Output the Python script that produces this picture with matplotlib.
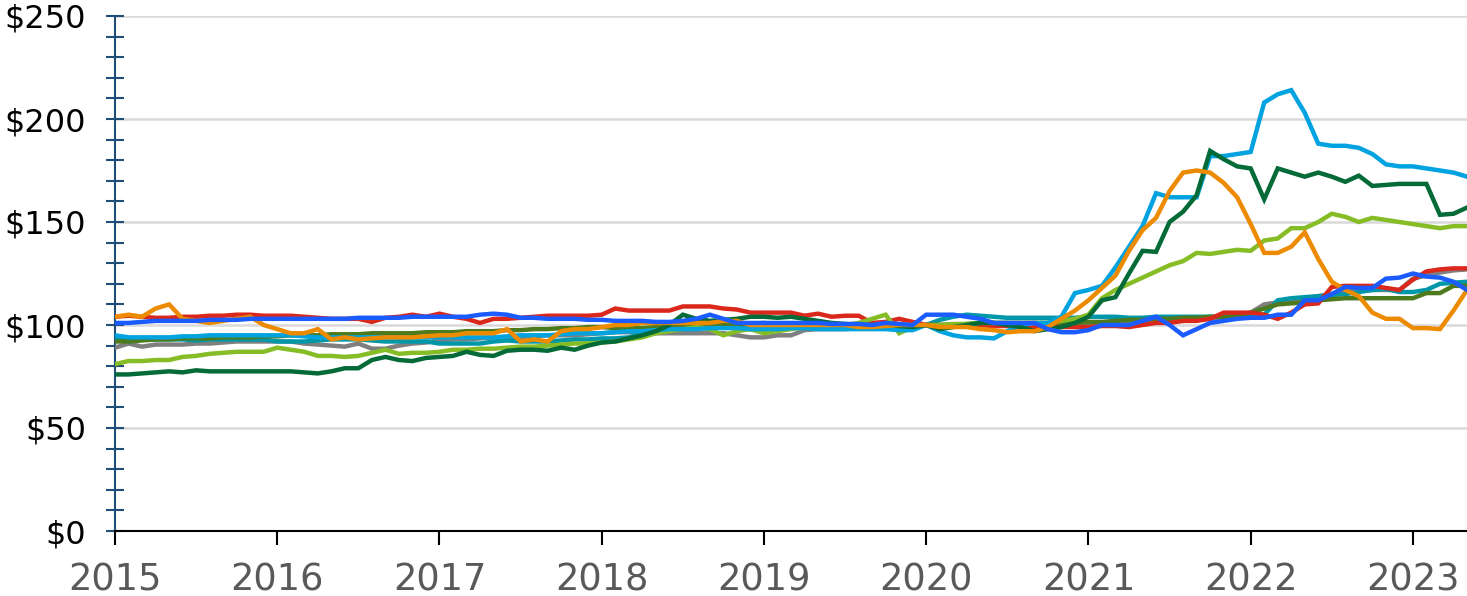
import matplotlib
matplotlib.use("Agg")
import matplotlib.pyplot as plt
import numpy as np
from matplotlib.ticker import MultipleLocator, FuncFormatter

# Monthly index values, Jan 2015 .. May 2023 (101 points)
start_year = 2015
year_ticks = [2015, 2016, 2017, 2018, 2019, 2020, 2021, 2022, 2023]

gray = [89, 91, 89.5, 90.5, 90.5, 90.5, 91, 91, 91.5, 92, 92, 92,
        92, 92, 91, 90.5, 90, 89.5, 91, 88.5, 88.5, 90, 91, 91.5,
        92.5, 93, 93, 93.5, 94, 94, 94, 94.5, 95, 95, 95, 95.5,
        96, 96.5, 96.5, 96.5, 96, 96, 96, 96, 96, 96, 95, 94,
        94, 95, 95, 97.5, 98, 98, 98, 98.5, 99, 99, 99, 99.5,
        100, 100, 100, 100, 100, 100, 100, 100, 100, 100, 100, 100.5,
        101, 101, 101, 101, 101.5, 102, 102, 102, 102.5, 103, 103.5, 104.5,
        106, 110, 111, 112, 113, 114, 115, 116, 117, 117, 117, 117,
        122.5, 124, 125.5, 126.5, 127]

teal = [94, 92, 93, 93, 93, 93, 92.5, 93, 93, 93, 93, 93,
        92, 92, 92, 92.5, 93, 93, 93, 92.5, 92, 92, 92, 92,
        91, 91, 91, 91, 92, 92.5, 92, 92, 92, 92.5, 93, 93,
        93.5, 93.5, 94, 96, 97, 98, 99, 99.5, 100, 100, 99, 98,
        97.5, 98, 98.5, 99, 99, 99, 99, 99, 99, 99, 99, 99,
        100, 102.5, 104, 105, 104.5, 104, 103.5, 103.5, 103.5, 103.5, 103.5, 103.5,
        104, 104, 104, 103.5, 103.5, 104, 104, 104, 104, 104, 104, 104.5,
        104.5, 105, 112, 113, 113.5, 114, 114.5, 115, 116, 117, 117.5, 116,
        116, 117, 120, 120.5, 121]

olive = [92, 92, 92.5, 93, 93, 93.5, 93.5, 93.5, 94, 94, 94, 94.5,
         94.5, 95, 95, 95, 95.5, 95.5, 95.5, 96, 96, 96, 96, 96.5,
         96.5, 96.5, 97, 97, 97, 97.5, 97.5, 98, 98, 98.5, 98.5, 99,
         99, 98.5, 98.5, 98.5, 99, 99, 99.5, 99.5, 100, 100, 100, 100.5,
         101, 100, 99, 99, 99, 98.5, 98.5, 98.5, 99, 99, 99, 99.5,
         100, 100, 100, 100.5, 101, 101, 101, 101, 101, 101, 101, 101,
         101.5, 101.5, 102, 102.5, 102.5, 103, 103, 103.5, 103.5, 104, 104, 104.5,
         106, 108, 110, 110.5, 111, 112, 112.5, 113, 113, 113, 113, 113,
         113, 115.5, 115.5, 119, 119]

red = [104, 104.5, 104, 103.5, 103.5, 104, 104, 104.5, 104.5, 105, 105, 104.5,
       104.5, 104.5, 104, 103.5, 103, 103, 103, 101.5, 103.5, 104, 105, 104,
       105.5, 104, 103, 101, 103, 103, 103.5, 104, 104.5, 104.5, 104.5, 104.5,
       105, 108, 107, 107, 107, 107, 109, 109, 109, 108, 107.5, 106,
       106, 106, 106, 104.5, 105.5, 104, 104.5, 104.5, 101, 101.5, 103, 101.5,
       100, 100, 100, 100, 100, 99.5, 99.5, 99, 99, 99, 99, 99,
       99, 99.5, 99.5, 99, 100, 101, 101, 102, 102, 103, 106, 106,
       106, 105, 103, 106, 110, 110.5, 118.5, 119, 119, 119, 118, 117,
       122, 126, 127, 127.5, 127.5]

light_green = [81, 82.5, 82.5, 83, 83, 84.5, 85, 86, 86.5, 87, 87, 87,
               89, 88, 87, 85, 85, 84.5, 85, 86.5, 88, 86, 86.5, 86.5,
               87, 88, 88, 88.5, 88.5, 89, 89.5, 89.5, 90, 90.5, 91, 91,
               91.5, 92, 93, 94, 96, 97, 98, 99, 98, 95, 97, 98,
               96, 97, 98, 99, 100, 100, 100, 101, 103, 105, 96, 99,
               100, 100, 100.5, 100.5, 101, 101, 101, 101, 101, 101, 102, 103,
               105, 113, 117, 120, 123, 126, 129, 131, 135, 134.5, 135.5, 136.5,
               136, 141, 142, 147, 147, 150, 154, 152.5, 150, 152, 151, 150,
               149, 148, 147, 148, 148]

sky_blue = [95, 94, 94, 94, 94, 94.5, 94.5, 95, 95, 95, 95, 95,
            95, 95, 94.5, 94, 94, 94, 94, 94, 94, 94, 94, 94,
            94, 94, 94, 94, 94, 94.5, 95, 95, 95, 95.5, 96, 96,
            96, 96.5, 97, 97, 97.5, 98, 98, 98, 98.5, 98.5, 98.5, 98,
            98, 98, 98.5, 98.5, 98, 98, 98, 98, 98, 98, 97.5, 97.5,
            100, 97, 95, 94, 94, 93.5, 97, 100, 101, 101, 104, 115.5,
            117, 119, 128, 138, 148, 164, 162, 162, 162, 182, 182, 183,
            184, 208, 212, 214, 203, 188, 187, 187, 186, 183, 178, 177,
            177, 176, 175, 174, 172]

dark_green = [76, 76, 76.5, 77, 77.5, 77, 78, 77.5, 77.5, 77.5, 77.5, 77.5,
              77.5, 77.5, 77, 76.5, 77.5, 79, 79, 83, 84.5, 83, 82.5, 84,
              84.5, 85, 87, 85.5, 85, 87.5, 88, 88, 87.5, 89, 88, 90,
              91.5, 92, 93.5, 95, 97, 100, 105, 103, 102, 102.5, 103, 104,
              104, 103.5, 104, 103, 102, 101, 100.5, 100, 100, 100, 99.5, 99,
              100, 98, 99, 100, 101, 101, 100, 99, 97, 98, 99, 101,
              104, 112, 113.5, 125, 136, 135.5, 150, 155, 163, 184.5, 180.5, 177,
              176, 161, 176, 174, 172, 174, 172, 169.5, 172.5, 167.5, 168, 168.5,
              168.5, 168.5, 153.5, 154, 157]

orange = [104, 105, 104, 108, 110, 103, 102, 101, 102, 103, 104, 100,
          98, 96, 96, 98, 93, 94, 93, 93.5, 94, 94, 94, 94.5,
          95, 95, 96, 96, 96, 98, 92, 93, 92, 97, 98, 98,
          99, 100, 100, 101, 101, 101, 101, 101, 101, 102, 102, 100,
          100, 100, 100, 100, 100, 100, 100, 99, 99, 99.5, 100, 100,
          100, 99, 99, 99, 98, 97.5, 96.5, 97, 97, 99, 103, 107,
          112, 118, 124, 136, 146, 152, 165, 174, 175, 174, 169, 162,
          149, 135, 135, 138, 145, 132, 121, 117, 114, 106, 103, 103,
          98.5, 98.5, 98, 107, 117]

blue = [101, 101, 101.5, 102, 102, 102, 102, 102.5, 102.5, 102.5, 103, 103,
        103, 103, 103, 103, 103, 103, 103.5, 103.5, 103.5, 103.5, 104, 104,
        104, 104, 104, 105, 105.5, 105, 103.5, 103.5, 103, 103, 103, 102.5,
        102.5, 102, 102, 102, 101.5, 101.5, 102, 103, 105, 103, 101, 101,
        101, 101, 101, 101, 101, 100.5, 100.5, 100.5, 100, 101, 100.5, 100,
        105, 105, 105, 104, 103, 101, 101, 101, 101, 98, 96.5, 96.5,
        97.5, 100, 100, 100, 102, 104, 100, 95, 98, 101, 102, 103,
        103.5, 103.5, 105, 105, 112, 112, 115, 118.5, 118, 118, 122.5, 123,
        125, 123.5, 123, 121, 117]

series = [
    (gray, "#7f7f7f"),
    (teal, "#0097a9"),
    (olive, "#4e7a1e"),
    (red, "#da291c"),
    (light_green, "#86bc25"),
    (sky_blue, "#00a3e0"),
    (dark_green, "#046a38"),
    (orange, "#ed8b00"),
    (blue, "#1a5cff"),
]

n = len(blue)
x = start_year + np.arange(n) / 12.0

fig = plt.figure(figsize=(14.67, 5.96), dpi=100)
ax = fig.add_axes([115 / 1467, 1 - 531 / 596, 1 - 115 / 1467, (531 - 16) / 596])

for vals, col in series:
    ax.plot(x, vals, color=col, lw=3.2, solid_joinstyle="miter", zorder=3)

ax.set_xlim(start_year, x[-1])
ax.set_ylim(0, 250)

ax.yaxis.set_major_locator(MultipleLocator(50))
ax.yaxis.set_minor_locator(MultipleLocator(10))
ax.yaxis.set_major_formatter(FuncFormatter(lambda v, p: f"${v:.0f}"))
ax.set_xticks(year_ticks)
ax.set_xticklabels([str(y) for y in year_ticks])

ax.grid(axis="y", which="major", color="#d9d9d9", lw=1.8, zorder=0)
ax.set_axisbelow(True)

for s in ["top", "right"]:
    ax.spines[s].set_visible(False)
ax.spines["left"].set_color("#1f4e79")
ax.spines["left"].set_linewidth(1.5)
ax.spines["bottom"].set_color("black")
ax.spines["bottom"].set_linewidth(1.5)
ax.spines["bottom"].set_zorder(4)

ax.tick_params(axis="y", which="both", direction="inout", length=13.5, width=1.5,
               color="#1f4e79", labelsize=23, labelcolor="black", pad=14)
ax.tick_params(axis="x", which="major", direction="out", length=10, width=1.5,
               color="black", labelsize=26.5, labelcolor="#595959", pad=12)

fig.savefig("out.png", dpi=100)
